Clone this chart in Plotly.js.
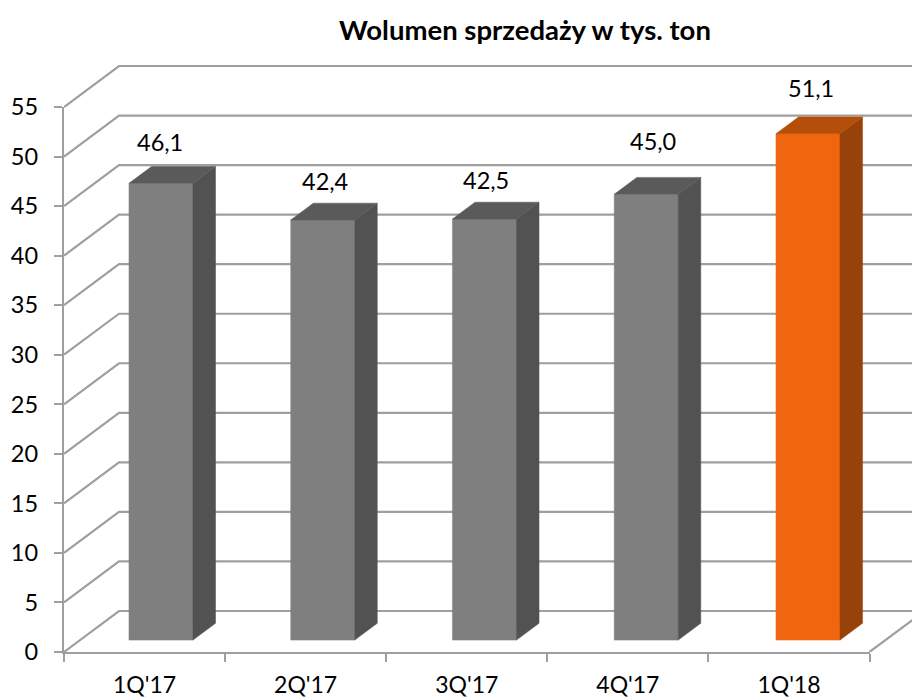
<!DOCTYPE html>
<html><head><meta charset="utf-8">
<script src="https://cdn.plot.ly/plotly-3.0.1.min.js"></script>
<style>html,body{margin:0;padding:0;background:#fff}#c{width:912px;height:697px}</style>
</head><body><div id="c"></div>
<script>
const categories = ["1Q'17","2Q'17","3Q'17","4Q'17","1Q'18"];
const values = [46.1,42.4,42.5,45.0,51.1];
const valueLabels = ["46,1","42,4","42,5","45,0","51,1"];
const yTicks = [0,5,10,15,20,25,30,35,40,45,50,55];
const labelShiftX = [-1,2,2,7,3];
const labelShiftY = [41,39,39,53,46];
const frontColors = ['#7f7f7f','#7f7f7f','#7f7f7f','#7f7f7f','#f0660f'];
const topColors = ['#5a5a5a','#5a5a5a','#5a5a5a','#5a5a5a','#b44e08'];
const sideColors = ['#525252','#525252','#525252','#525252','#964208'];
const gridColor = '#9f9f9f';

const W=912,H=697,mL=64,mT=60,mB=45;
const catPx=161.1, unitPx=545/55;
const xMaxFull=(W-mL)/catPx, yMaxFull=(H-mT-mB)/unitPx;
const depthX=55/catPx, depthY=41/unitPx;
const barFront=0.29, barBack=0.70, barHalf=32/catPx, barPitch=161.75/catPx;
const px=(x,d)=>x+d*depthX, py=(v,d)=>v+d*depthY;
const barCenter=i=>0.503+i*barPitch;

const traces=[];
// invisible anchor so that the framed axes exist
traces.push({x:[0,5],y:[0,55],mode:'markers',marker:{size:1,opacity:0},xaxis:'x',yaxis:'y',hoverinfo:'skip',showlegend:false});
const onFull={xaxis:'x2',yaxis:'y2',hoverinfo:'skip',showlegend:false};
// back wall + side wall gridlines
yTicks.forEach(v=>{
  traces.push(Object.assign({x:[px(0,0),px(0,1),xMaxFull+0.1],y:[py(v,0),py(v,1),py(v,1)],mode:'lines',
    line:{color:gridColor,width:2.2}},onFull));
});
// floor right edge
traces.push(Object.assign({x:[px(5,0),px(5,1)],y:[py(0,0),py(0,1)],mode:'lines',line:{color:gridColor,width:2.2}},onFull));
// 3D bars
function poly(xs,ys,c){traces.push(Object.assign({x:xs.concat(xs[0]),y:ys.concat(ys[0]),mode:'lines',fill:'toself',fillcolor:c,line:{color:c,width:0.5}},onFull));}
values.forEach((v,i)=>{
  const c=barCenter(i), l=c-barHalf, r=c+barHalf;
  poly([px(l,barFront),px(r,barFront),px(r,barFront),px(l,barFront)],[py(0,barFront),py(0,barFront),py(v,barFront),py(v,barFront)],frontColors[i]);
  poly([px(r,barFront),px(r,barBack),px(r,barBack),px(r,barFront)],[py(0,barFront),py(0,barBack),py(v,barBack),py(v,barFront)],sideColors[i]);
  poly([px(l,barFront),px(r,barFront),px(r,barBack),px(l,barBack)],[py(v,barFront),py(v,barFront),py(v,barBack),py(v,barBack)],topColors[i]);
});
const fontFam='Lato, Carlito, sans-serif';
const annotations=values.map((v,i)=>({xref:'x2',yref:'y2',x:px(barCenter(i),barFront),y:py(v,barFront),text:valueLabels[i],
  showarrow:false,xshift:labelShiftX[i],yshift:labelShiftY[i],xanchor:'center',yanchor:'middle',
  font:{family:fontFam,size:23.5,color:'#000'}}));

const layout={width:W,height:H,paper_bgcolor:'#fff',plot_bgcolor:'rgba(0,0,0,0)',showlegend:false,
  margin:{l:mL,r:0,t:mT,b:mB,pad:0},
  title:{text:'<b>Wolumen sprzedaży w tys. ton</b>',x:525/W,xanchor:'center',y:1-30/H,yanchor:'middle',font:{family:fontFam,size:27.5,color:'#000'}},
  xaxis:{domain:[0,5*catPx/(W-mL)],range:[0,5],anchor:'y',showgrid:false,zeroline:false,showline:true,linecolor:gridColor,linewidth:2.2,
    tickmode:'array',tickvals:categories.map((_,i)=>i+0.5),ticktext:categories,ticks:'',ticklen:0,ticklabelstandoff:11,
    minor:{dtick:1,tick0:0,ticks:'outside',ticklen:8,tickwidth:2,tickcolor:gridColor,showgrid:false},
    tickfont:{family:fontFam,size:23,color:'#000'},fixedrange:true},
  yaxis:{domain:[0,55*unitPx/(H-mT-mB)],range:[0,55],anchor:'x',showgrid:false,zeroline:false,showline:true,linecolor:gridColor,linewidth:2.2,
    tickmode:'array',tickvals:yTicks,ticktext:yTicks.map(String),ticks:'outside',ticklen:8,tickwidth:2,tickcolor:gridColor,ticklabelstandoff:11,
    tickfont:{family:fontFam,size:23.5,color:'#000'},fixedrange:true},
  xaxis2:{domain:[0,1],range:[0,xMaxFull],anchor:'y2',visible:false,fixedrange:true},
  yaxis2:{domain:[0,1],range:[0,yMaxFull],anchor:'x2',visible:false,fixedrange:true},
  annotations};
Plotly.newPlot('c',traces,layout,{displayModeBar:false,staticPlot:true});
</script></body></html>
